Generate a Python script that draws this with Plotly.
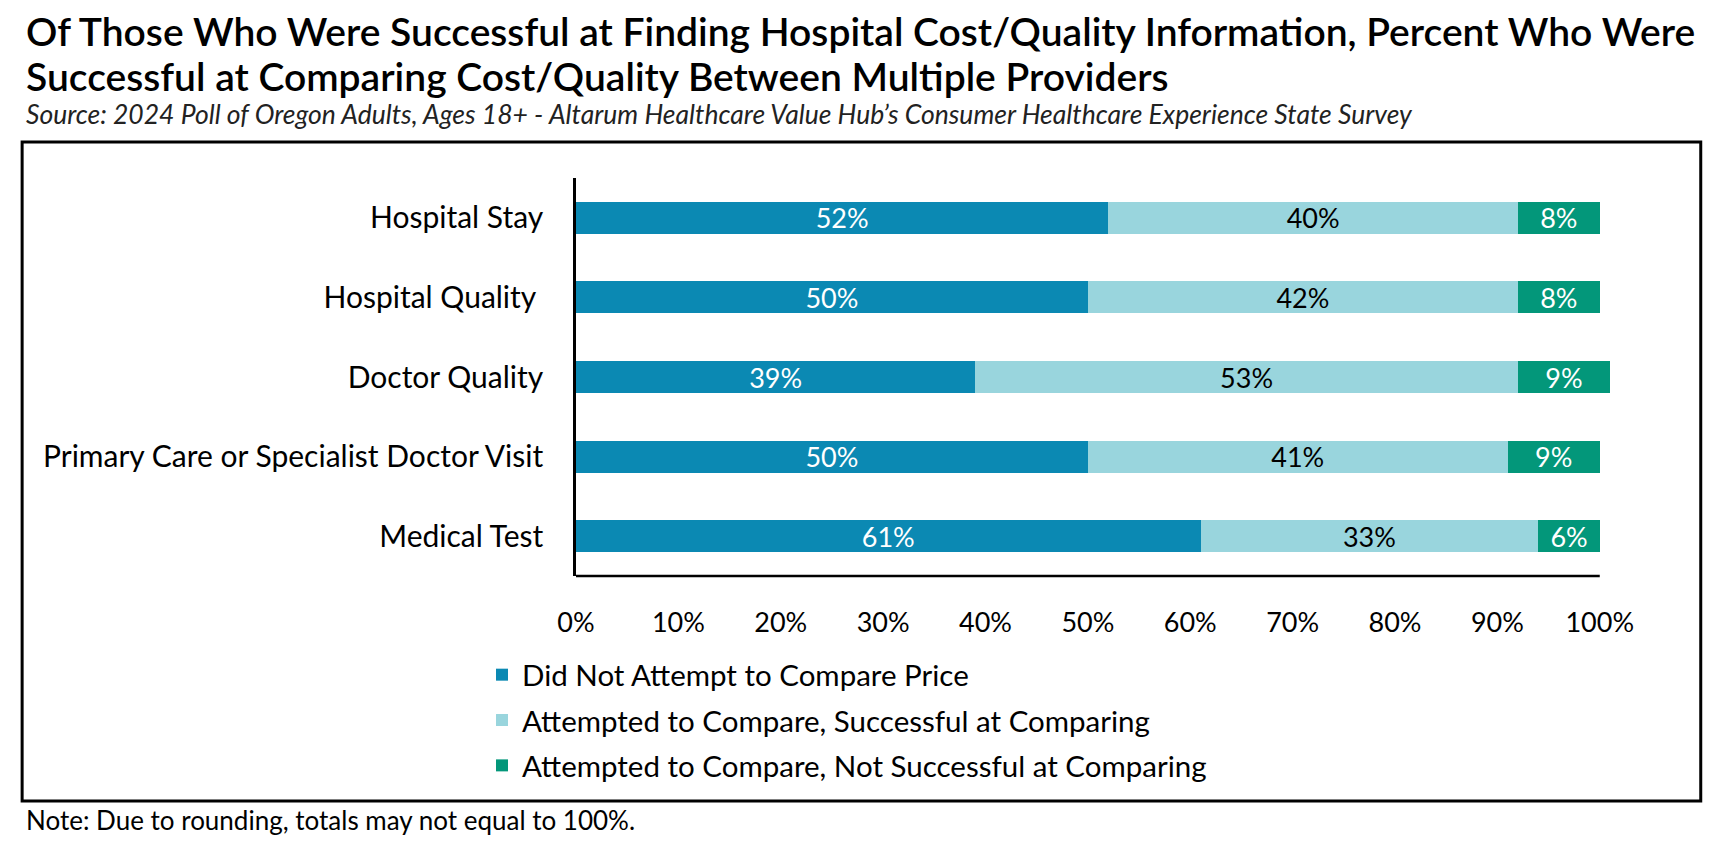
import plotly.graph_objects as go

categories = ["Hospital Stay", "Hospital Quality ", "Doctor Quality",
              "Primary Care or Specialist Doctor Visit", "Medical Test"]
did_not_attempt = [52, 50, 39, 50, 61]
attempted_successful = [40, 42, 53, 41, 33]
attempted_not_successful = [8, 8, 9, 9, 6]
series_names = ["Did Not Attempt to Compare Price",
                "Attempted to Compare, Successful at Comparing",
                "Attempted to Compare, Not Successful at Comparing"]
tick_vals = [0, 10, 20, 30, 40, 50, 60, 70, 80, 90, 100]
tick_text = [f"{v}%" for v in tick_vals]

title_1 = "Of Those Who Were Successful at Finding Hospital Cost/Quality Information, Percent Who Were"
title_2 = "Successful at Comparing Cost/Quality Between Multiple Providers"
subtitle = "Source: 2024 Poll of Oregon Adults, Ages 18+ - Altarum Healthcare Value Hub\u2019s Consumer Healthcare Experience State Survey"
note = "Note: Due to rounding, totals may not equal to 100%."

colors = ["#0B89B3", "#99D5DD", "#03977A"]
text_colors = ["white", "black", "white"]

W, H = 1715, 842
X_MAX = 101
L, T, B = 576, 178, 576
UNIT = 1024 / 100          # pixels per percent
R = L + UNIT * X_MAX
pw, ph = R - L, B - T

def px(x):
    return (x - L) / pw

def py(y):
    return 1 - (y - T) / ph

FONT = "Lato, 'Open Sans', sans-serif"

fig = go.Figure()
for name, vals, c, tc in zip(series_names,
                             [did_not_attempt, attempted_successful, attempted_not_successful],
                             colors, text_colors):
    fig.add_trace(go.Bar(
        y=categories, x=vals, name=name, orientation="h",
        marker=dict(color=c, line=dict(width=0)),
        text=[f"{v}%" for v in vals], textposition="inside",
        insidetextanchor="middle", textangle=0, constraintext="none",
        textfont=dict(color=tc, size=27, family=FONT),
        cliponaxis=False, legendgroup=name,
    ))

fig.update_layout(
    width=W, height=H,
    barmode="stack", bargap=0.6,
    plot_bgcolor="white", paper_bgcolor="white",
    margin=dict(l=L, r=W - R, t=T, b=H - B, autoexpand=False),
    font=dict(family=FONT, color="black", size=24),
    xaxis=dict(range=[0, X_MAX], tickvals=tick_vals, ticktext=tick_text,
               showgrid=False, zeroline=False, showline=False, ticks="",
               ticklabelstandoff=28, tickfont=dict(size=27, family=FONT),
               fixedrange=True),
    yaxis=dict(categoryorder="array", categoryarray=categories,
               autorange="reversed", showgrid=False, zeroline=False,
               showline=True, linecolor="black", linewidth=2.5, ticks="",
               ticklabelstandoff=24, tickfont=dict(size=30, family=FONT),
               fixedrange=True),
    showlegend=True,
    legend=dict(x=px(482), y=py(649), xanchor="left", yanchor="top",
                orientation="v", traceorder="grouped", tracegroupgap=4,
                font=dict(size=29.5, family=FONT), bgcolor="rgba(0,0,0,0)"),
)

anns = [
    dict(text=title_1, x=px(24), y=py(31), font=dict(size=39, family=FONT, weight=600)),
    dict(text=title_2, x=px(24), y=py(76), font=dict(size=39, family=FONT, weight=600)),
    dict(text=f"<i>{subtitle}</i>", x=px(24), y=py(114), font=dict(size=26.5, family=FONT, color="#222")),
    dict(text=note, x=px(24), y=py(820), font=dict(size=26, family=FONT)),
]
for a in anns:
    fig.add_annotation(xref="paper", yref="paper", xanchor="left", yanchor="middle",
                       showarrow=False, **a)

# x-axis baseline from 0% to 100%
fig.add_shape(type="line", xref="x", yref="paper", x0=0, x1=100, y0=0, y1=0,
              line=dict(color="black", width=2.5))
fig.add_shape(type="rect", xref="paper", yref="paper",
              x0=px(22), x1=px(1701), y0=py(142), y1=py(801),
              line=dict(color="black", width=3), fillcolor="rgba(0,0,0,0)", layer="below")

fig.write_html("out.html", config={"displayModeBar": False},
               post_script="document.body.style.margin='0';document.body.style.overflow='hidden';")
